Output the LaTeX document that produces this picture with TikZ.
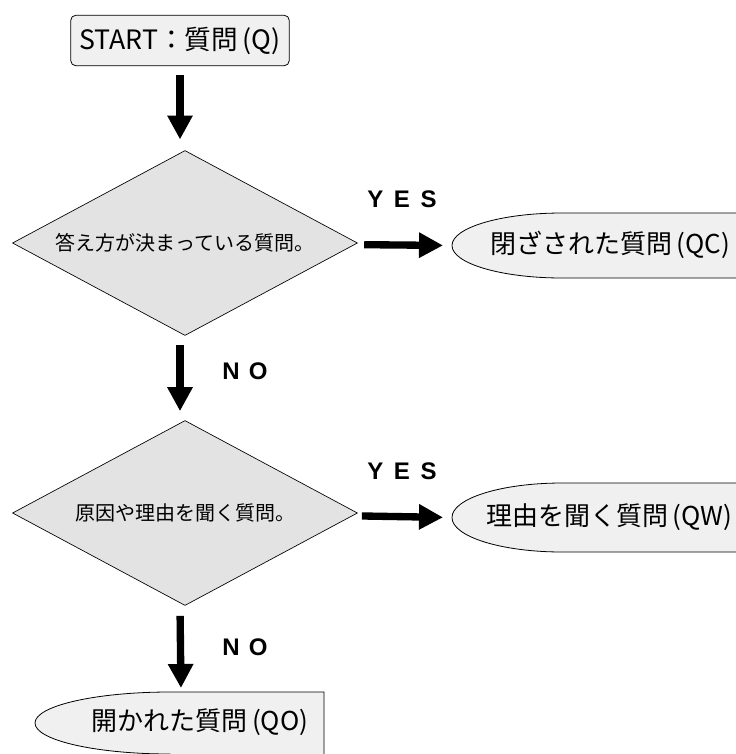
\documentclass[tikz,border=0pt]{standalone}
\usepackage{fontspec}
\setmainfont{Noto Sans CJK JP}
\newfontfamily\yesnofont{Liberation Sans}
\usetikzlibrary{arrows.meta,positioning,shapes.geometric}
\definecolor{boxgray}{HTML}{F0F0F0}
\definecolor{diagray}{HTML}{E3E3E3}

\begin{document}
\begin{tikzpicture}[
    x=0.75pt, y=-0.75pt,
    startbox/.style={draw, fill=boxgray, rounded corners=4pt, line width=0.6pt, minimum width=164pt, minimum height=38pt, font=\fontsize{20}{23}\selectfont},
    dec/.style={diamond, draw, fill=diagray, line width=0.5pt, inner sep=0pt, shape aspect=1.865, minimum width=258.75pt, minimum height=138.75pt, font=\fontsize{15}{18}\selectfont},
    termtext/.style={font=\fontsize{19.5}{23}\selectfont},
    termedge/.style={draw, fill=boxgray, line width=0.6pt},
    lbl/.style={font=\yesnofont\bfseries\fontsize{18}{21}\selectfont},
    ar/.style={line width=5.5pt, -{Triangle[length=18pt,width=18pt]}},
  ]
  \useasboundingbox (0,0) rectangle (736,754);

  \node[startbox] (q) at (180,40.5) {START：質問\,(Q)};
  \node[dec] (d1) at (185,243) {答え方が決まっている質問。};
  \node[dec] (d2) at (185,513) {原因や理由を聞く質問。};

  % end boxes, cut off by the page edge
  \path[termedge] (770,213) -- (562,213) arc[start angle=90, end angle=270, x radius=82.5pt, y radius=24.375pt] -- (770,278) -- cycle;
  \path[termedge] (770,483) -- (562,483) arc[start angle=90, end angle=270, x radius=82.5pt, y radius=25.875pt] -- (770,552) -- cycle;
  \path[termedge] (324,760) -- (324,692) -- (170,692) arc[start angle=90, end angle=270, x radius=101.25pt, y radius=23.25pt] -- (170,760);
  \coordinate (qctip) at (452,245.5);
  \coordinate (qwtip) at (452,517.5);
  \coordinate (qotop) at (181,692);

  \node[termtext] (qc) at (610,245) {閉ざされた質問\,(QC)};
  \node[termtext] (qw) at (609,517) {理由を聞く質問\,(QW)};
  \node[termtext] (qo) at (200,722) {開かれた質問\,(QO)};

  \node[lbl] (yes1) at (402,199) {Y\hspace{8pt}E\hspace{8pt}S};
  \node[lbl] (no1) at (245,371) {N\hspace{7pt}O};
  \node[lbl] (yes2) at (402,471) {Y\hspace{8pt}E\hspace{8pt}S};
  \node[lbl] (no2) at (245,647) {N\hspace{7pt}O};

  \draw[ar, shorten <=6.75pt, shorten >=8pt] (q.south) -- (q.south |- d1.north);
  \draw[ar, shorten <=7pt, shorten >=6.75pt] (d1.south -| q.south) -- (d2.north -| q.south);
  \draw[ar, shorten <=7.5pt, shorten >=3pt] (d2.south -| q.south) -- (qotop);
  \draw[ar, shorten <=7pt, shorten >=6.75pt] (d1) -- (qctip);
  \draw[ar, shorten <=7pt, shorten >=6.75pt] (d2) -- (qwtip);
\end{tikzpicture}
\end{document}
